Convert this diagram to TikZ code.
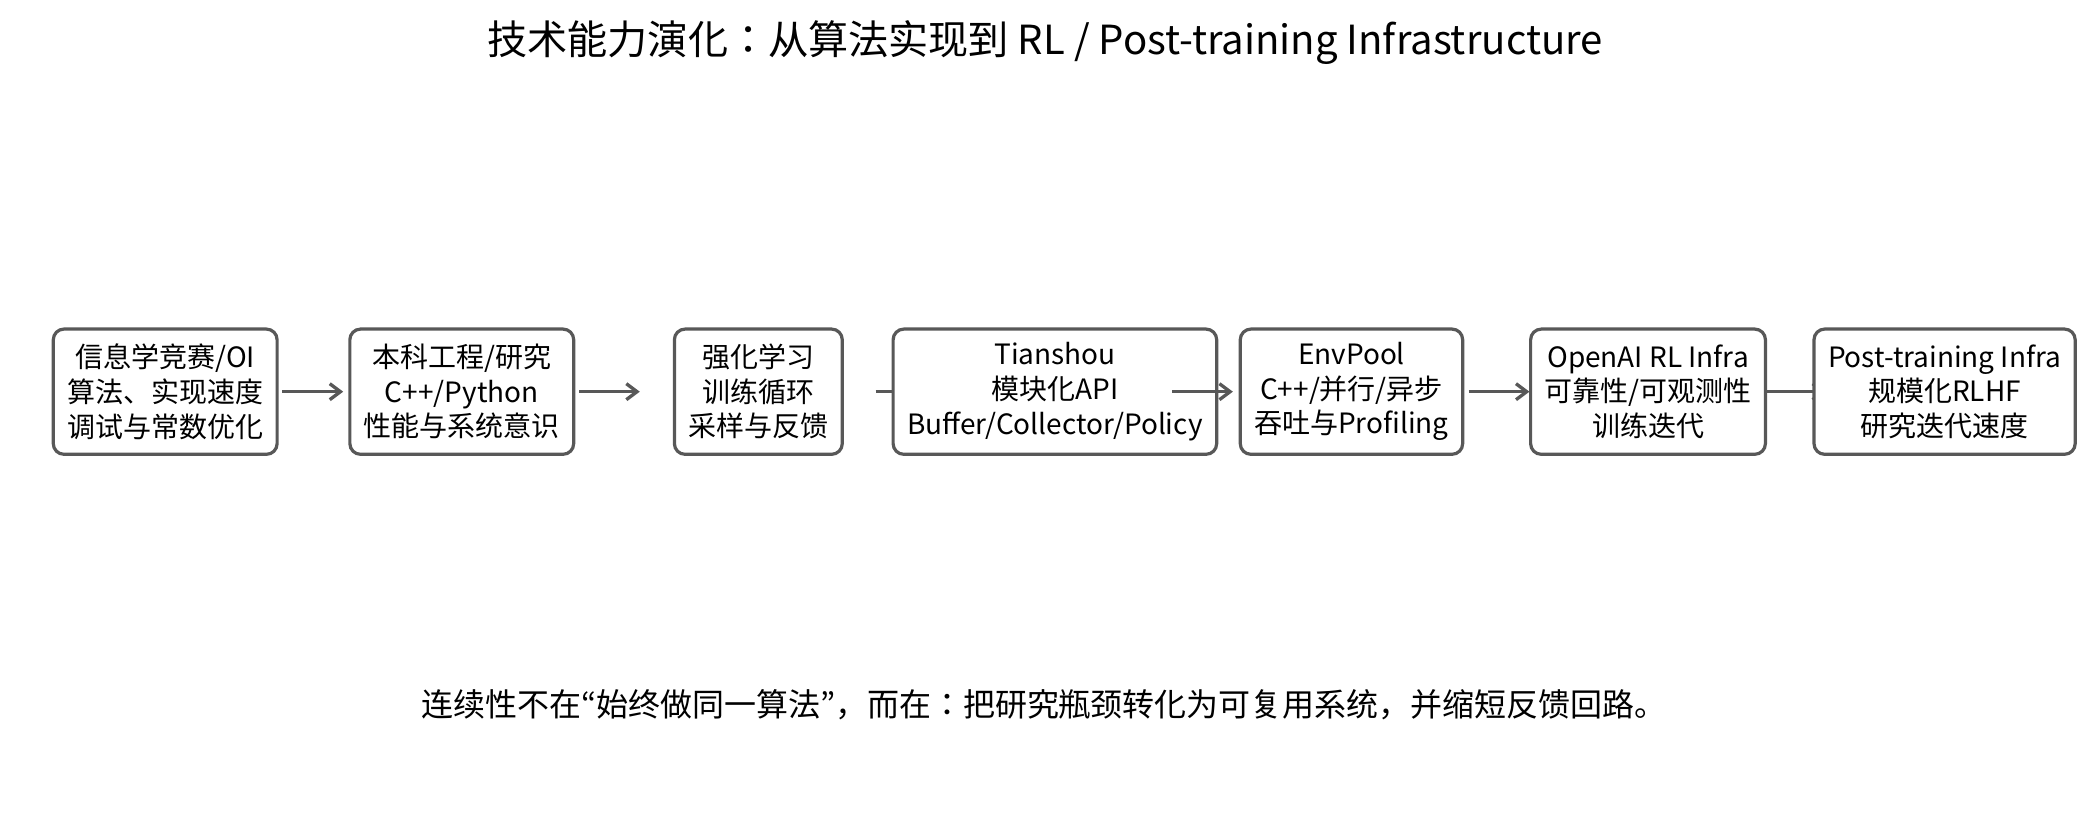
\documentclass[tikz,border=0pt]{standalone}
\usepackage{fontspec}
\setmainfont{Noto Sans CJK JP}
\usetikzlibrary{arrows.meta}
\definecolor{edgegray}{HTML}{585858}
\begin{document}
\begin{tikzpicture}
[x=1pt,y=-1pt,
  lineDecorate/.style={-{Straight Barb[length=8pt,width=12pt]},line width=2.5pt,draw=edgegray},%
  nodeDecorate/.style={shape=rectangle,rounded corners=8pt,draw=edgegray,line width=2.4pt,
    fill=white,minimum height=94pt,inner xsep=10.5pt,align=center,
    font=\fontsize{21}{26}\selectfont}]
\useasboundingbox (0,0) rectangle (1568,610.2);
%% title and note
\node (title) at (784.5,32) {\fontsize{30.1}{35}\selectfont 技术能力演化：从算法实现到 RL / Post-training Infrastructure};
\node (note) at (783.5,529) {\fontsize{24}{28}\selectfont 连续性不在“始终做同一算法”，而在：把研究瓶颈转化为可复用系统，并缩短反馈回路。};
%% stage centres
\foreach \nodename/\x in {
  1/124, 2/346.6, 3/569.2, 4/791.8, 5/1014.4, 6/1237, 7/1459.6}
{
  \coordinate (c\nodename) at (\x,294);
}
%% stages and arrows
\foreach \nodename/\prevname/\stagetext in {
  1/0/{信息学竞赛/OI\\算法、实现速度\\调试与常数优化},
  2/1/{本科工程/研究\\C++/Python\\性能与系统意识},
  3/2/{强化学习\\训练循环\\采样与反馈},
  4/3/{Tianshou\\模块化API\\Buffer/Collector/Policy},
  5/4/{EnvPool\\C++/并行/异步\\吞吐与Profiling},
  6/5/{OpenAI RL Infra\\可靠性/可观测性\\训练迭代},
  7/6/{Post-training Infra\\规模化RLHF\\研究迭代速度}}
{
  \ifnum\prevname>0
    \draw[lineDecorate] ([xshift=88pt]c\prevname) -- ([xshift=-89pt]c\nodename);
  \fi
  \node (s\nodename) at (c\nodename) [nodeDecorate] {\stagetext};
}
\end{tikzpicture}
\end{document}
